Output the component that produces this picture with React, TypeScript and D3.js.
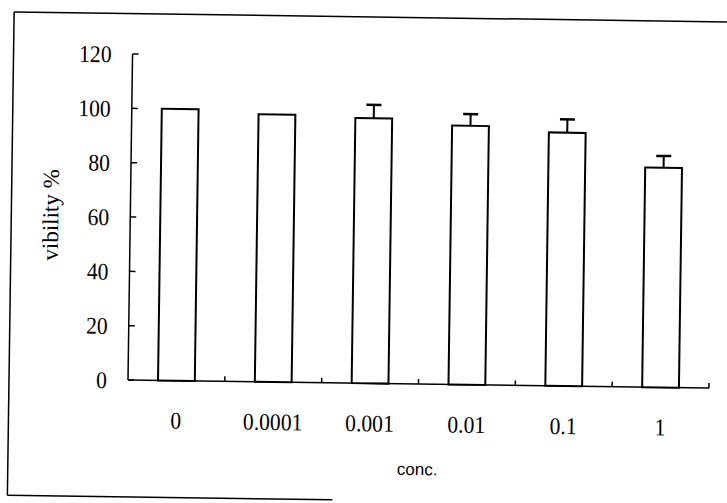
import React from "react";
import * as d3 from "d3";

const categories = ["0", "0.0001", "0.001", "0.01", "0.1", "1"];
const values = [100, 98.5, 97.6, 95.3, 93.3, 80.9];
const errors = [0, 0, 4.9, 4.3, 4.9, 4.3];
const yTicks = [0, 20, 40, 60, 80, 100, 120];
const yTitle = "vibility %";
const xTitle = "conc.";

const W = 727;
const H = 503;
const X0 = 128;
const X1 = 709;
const Y0 = 380;
const Y1 = 54;

export default function App() {
  const x = d3.scaleBand<string>().domain(categories).range([X0, X1]).paddingInner(0.62).paddingOuter(0.31);
  const y = d3.scaleLinear().domain([0, 120]).range([Y0, Y1]);
  const step = x.step();
  const serif = "'Liberation Serif', 'DejaVu Serif', serif";
  const boundaries = d3.range(1, categories.length + 1).map((i) => X0 + step * i);

  return (
    <svg
      width={W}
      height={H}
      viewBox={`0 0 ${W} ${H}`}
      style={{ position: "absolute", left: 0, top: 0, background: "#fff" }}
    >
      <rect x={0} y={0} width={W} height={H} fill="#fff" />
      <g transform={`rotate(0.8, ${X0}, ${Y0})`}>
        {/* outer frame (partial) */}
        <line x1={9} y1={13.6} x2={740} y2={13.6} stroke="#000" strokeWidth={1.5} />
        <line x1={9} y1={13.6} x2={9} y2={497} stroke="#000" strokeWidth={1.5} />
        <line x1={9} y1={497} x2={334} y2={497} stroke="#000" strokeWidth={1.5} />

        {/* y axis */}
        <line x1={X0} y1={y(0)} x2={X0} y2={y(120)} stroke="#000" strokeWidth={1.5} />
        {yTicks.map((t) => (
          <g key={t}>
            <line x1={X0} x2={X0 + 6} y1={y(t)} y2={y(t)} stroke="#000" strokeWidth={1.5} />
            <text
              transform={`translate(${107},${y(t) + 8.5}) scale(0.9,1)`}
              textAnchor="end"
              fontFamily={serif}
              fontSize={24}
              fill="#000"
            >
              {t}
            </text>
          </g>
        ))}

        {/* x axis */}
        <line x1={X0} y1={Y0} x2={X1} y2={Y0} stroke="#000" strokeWidth={1.5} />
        {boundaries.map((bx, i) => (
          <line key={i} x1={bx} x2={bx} y1={Y0} y2={Y0 - 5} stroke="#000" strokeWidth={1.5} />
        ))}

        {/* bars */}
        {categories.map((c, i) => {
          const bx = x(c) as number;
          const bw = x.bandwidth();
          const cx = bx + bw / 2;
          const top = y(values[i]);
          const err = errors[i];
          return (
            <g key={c}>
              <rect x={bx} y={top} width={bw} height={Y0 - top} fill="#fff" stroke="#000" strokeWidth={2} />
              {err > 0 && (
                <g>
                  <line x1={cx} x2={cx} y1={top} y2={y(values[i] + err)} stroke="#000" strokeWidth={2} />
                  <line x1={cx - 7.5} x2={cx + 7.5} y1={y(values[i] + err)} y2={y(values[i] + err)} stroke="#000" strokeWidth={2.5} />
                </g>
              )}
              <text
                transform={`translate(${cx},${428}) scale(0.9,1)`}
                textAnchor="middle"
                fontFamily={serif}
                fontSize={24}
                fill="#000"
              >
                {c}
              </text>
            </g>
          );
        })}

        {/* axis titles */}
        <text
          transform={`translate(${56},${216}) rotate(-90)`}
          textAnchor="middle"
          fontFamily={serif}
          fontSize={23}
          fill="#000"
        >
          {yTitle}
        </text>
        <text
          x={(X0 + X1) / 2}
          y={471}
          textAnchor="middle"
          fontFamily="'Liberation Sans', sans-serif"
          fontSize={17}
          fill="#000"
        >
          {xTitle}
        </text>
      </g>
    </svg>
  );
}
